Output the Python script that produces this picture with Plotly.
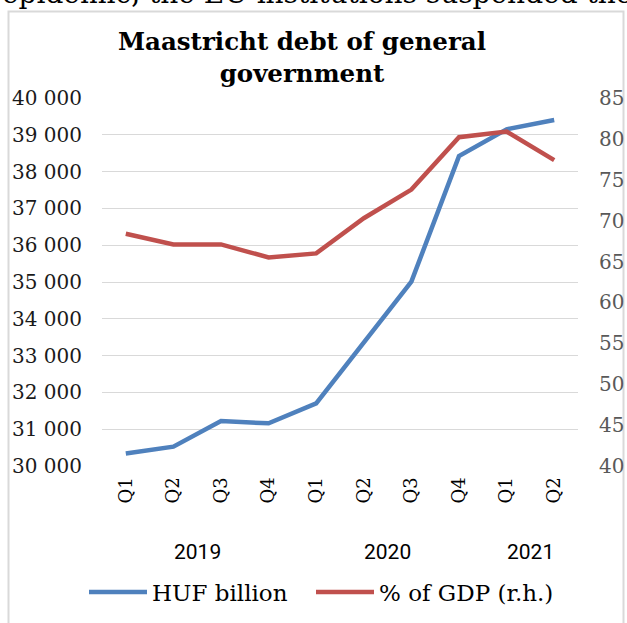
import plotly.graph_objects as go

# Quarterly Maastricht debt of general government, 2019 Q1 - 2021 Q2
years = ["2019", "2019", "2019", "2019", "2020", "2020", "2020", "2020", "2021", "2021"]
quarters = ["Q1", "Q2", "Q3", "Q4", "Q1", "Q2", "Q3", "Q4", "Q1", "Q2"]
huf_billion = [30340, 30525, 31220, 31160, 31700, 33340, 35010, 38420, 39150, 39400]
pct_of_gdp = [68.4, 67.1, 67.1, 65.5, 66.0, 70.3, 73.8, 80.2, 80.9, 77.4]

left_ticks = [30000, 31000, 32000, 33000, 34000, 35000, 36000, 37000, 38000, 39000, 40000]
right_ticks = [40, 45, 50, 55, 60, 65, 70, 75, 80, 85]

categories = [f"{y} {q}" for y, q in zip(years, quarters)]

BLUE = "#4f81bd"
RED = "#c0504d"
SERIF = "DejaVu Serif"

W, H = 627, 623
ML, MR, MT, MB = 102, 49, 98, 157
PW, PH = W - ML - MR, H - MT - MB


def px_x(X):
    return (X - ML) / PW


def px_y(Y):
    return (H - MB - Y) / PH


fig = go.Figure()
fig.add_trace(go.Scatter(
    x=categories, y=huf_billion, name="HUF billion", mode="lines",
    line=dict(color=BLUE, width=4.5), yaxis="y",
    legend="legend", showlegend=True,
))
fig.add_trace(go.Scatter(
    x=categories, y=pct_of_gdp, name="% of GDP (r.h.)", mode="lines",
    line=dict(color=RED, width=4.5), yaxis="y2",
    legend="legend2", showlegend=True,
))

# year group labels centred under their quarters
annotations = []
seen = []
for y in years:
    if y not in seen:
        seen.append(y)
for y in seen:
    idx = [i for i, v in enumerate(years) if v == y]
    annotations.append(dict(
        x=sum(idx) / len(idx), xref="x", y=px_y(552), yref="paper",
        text=y, showarrow=False, xanchor="center", yanchor="middle",
        font=dict(family="Roboto", size=21, color="#000000"),
    ))

# running body text above the chart box
annotations.append(dict(
    x=px_x(634), xref="paper", y=px_y(12), yref="paper",
    text="epidemic, the EU institutions suspended the", showarrow=False,
    xanchor="right", yanchor="bottom",
    font=dict(family=SERIF, size=28, color="#000000"),
))

legend_style = dict(
    visible=True, orientation="h", xref="paper", xanchor="left",
    y=px_y(592), yanchor="middle",
    font=dict(family=SERIF, size=23, color="#000000"),
    itemwidth=58, bgcolor="rgba(0,0,0,0)",
)

fig.update_layout(
    width=W, height=H,
    showlegend=True,
    margin=dict(l=ML, r=MR, t=MT, b=MB, autoexpand=False),
    paper_bgcolor="white", plot_bgcolor="white",
    separators=". ",
    title=dict(
        text="<b>Maastricht debt of general<br>government</b>",
        x=302 / W, xanchor="center", xref="container",
        y=1 - 50 / H, yanchor="top", yref="container",
        font=dict(family=SERIF, size=24.5, color="#000000"),
    ),
    xaxis=dict(
        type="category", range=[-0.5, len(categories) - 0.5],
        tickmode="array", tickvals=categories, ticktext=quarters,
        tickangle=-90, showgrid=False, showline=False, zeroline=False,
        ticks="outside", ticklen=3, tickcolor="rgba(0,0,0,0)",
        tickfont=dict(family=SERIF, size=18, color="#000000"),
    ),
    yaxis=dict(
        range=[30000, 40000], tickmode="array", tickvals=left_ticks, tickformat=",d",
        showgrid=True, gridcolor="#d9d9d9", gridwidth=1.3, zeroline=False,
        showline=False, ticks="outside", ticklen=15, tickcolor="rgba(0,0,0,0)",
        tickfont=dict(family=SERIF, size=20, color="#1a1a1a"),
    ),
    yaxis2=dict(
        range=[40, 85], tickmode="array", tickvals=right_ticks, overlaying="y",
        side="right", showgrid=False, zeroline=False, showline=False,
        ticks="outside", ticklen=16, tickcolor="rgba(0,0,0,0)",
        tickfont=dict(family=SERIF, size=20, color="#595959"),
    ),
    legend=dict(legend_style, x=px_x(84)),
    legend2=dict(legend_style, x=px_x(311)),
    annotations=annotations,
    shapes=[dict(
        type="rect", xref="paper", yref="paper",
        x0=px_x(8.5), x1=px_x(623.5), y0=px_y(650), y1=px_y(11.5),
        line=dict(color="#d9d9d9", width=2), fillcolor="rgba(0,0,0,0)", layer="below",
    )],
)

fig.write_html("out.html")
